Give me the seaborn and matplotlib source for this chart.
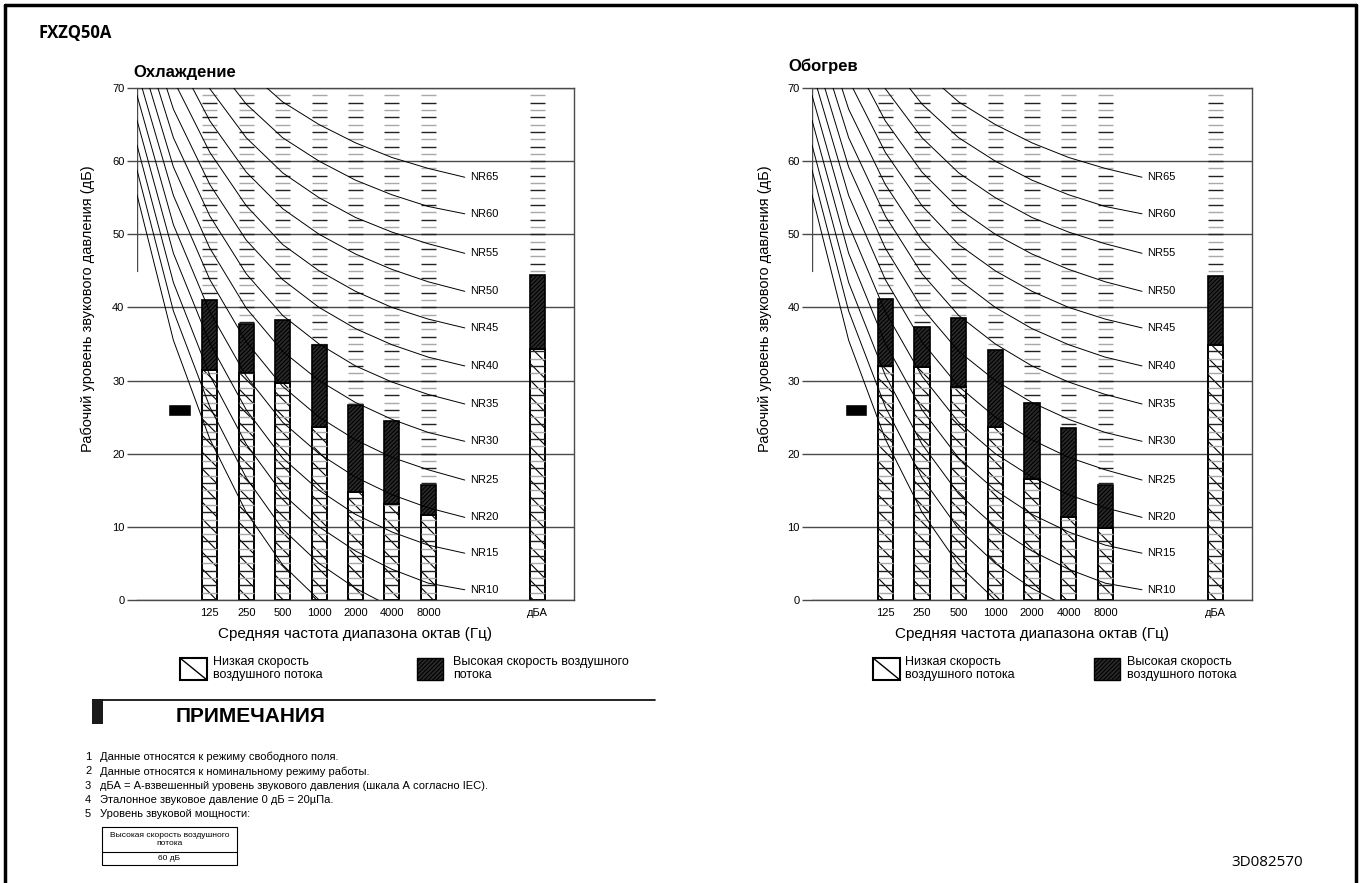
import numpy as np
import pandas as pd
import matplotlib
matplotlib.use("Agg")
import matplotlib.pyplot as plt
import seaborn as sns
from matplotlib.patches import Rectangle
from matplotlib.lines import Line2D

# ---------------- data ----------------
model_name = "FXZQ50A"
panel_titles = ["Охлаждение", "Обогрев"]
band_labels = ["125", "250", "500", "1000", "2000", "4000", "8000", "дБА"]
band_slots = [2, 3, 4, 5, 6, 7, 8, 11]

cool_low = [31.4, 31.1, 29.6, 23.6, 14.7, 13.1, 11.6, 34.3]
cool_high = [41.0, 37.8, 38.3, 34.9, 26.6, 24.5, 15.7, 44.5]
heat_low = [32.0, 31.8, 29.1, 23.7, 16.5, 11.4, 9.8, 34.8]
heat_high = [41.2, 37.3, 38.5, 34.2, 27.0, 23.5, 15.7, 44.3]

marker_band = [25.2, 26.8]          # black marker, dB range
marker_slot = [1.16, 1.2]           # per panel

# NR reference curves, slots 0..9 = 31.5 Hz ... 16 kHz
nr_slots = [0, 1, 2, 3, 4, 5, 6, 7, 8, 9]
nr_names = [0, 5, 10, 15, 20, 25, 30, 35, 40, 45, 50, 55, 60, 65]
nr_values = [
    [55.4, 35.5, 22.0, 12.0, 4.8, 0.0, -3.5, -6.1, -8.0, -9.5],
    [58.8, 39.5, 26.4, 16.7, 9.7, 5.0, 1.6, -1.0, -2.9, -4.4],
    [62.2, 43.4, 30.7, 21.3, 14.5, 10.0, 6.7, 4.2, 2.3, 1.4],
    [65.6, 47.4, 35.1, 26.0, 19.4, 15.0, 11.7, 9.3, 7.5, 6.4],
    [69.0, 51.3, 39.4, 30.6, 24.3, 20.0, 16.8, 14.4, 12.6, 11.3],
    [72.4, 55.3, 43.8, 35.3, 29.2, 25.0, 21.9, 19.5, 17.8, 16.4],
    [75.8, 59.2, 48.1, 39.9, 34.0, 30.0, 27.0, 24.7, 22.9, 21.7],
    [79.2, 63.2, 52.5, 44.6, 38.9, 35.0, 32.0, 29.8, 28.1, 26.8],
    [82.6, 67.1, 56.8, 49.2, 43.8, 40.0, 37.1, 34.9, 33.2, 32.0],
    [86.0, 71.1, 61.2, 53.9, 48.6, 45.0, 42.2, 40.0, 38.4, 37.2],
    [89.5, 75.0, 65.5, 58.5, 53.5, 50.0, 47.3, 45.2, 43.5, 42.2],
    [92.9, 79.0, 69.9, 63.2, 58.4, 55.0, 52.3, 50.3, 48.7, 47.4],
    [96.3, 82.9, 74.2, 67.8, 63.2, 60.0, 57.4, 55.4, 53.8, 52.8],
    [99.7, 86.9, 78.6, 72.5, 68.1, 65.0, 62.5, 60.5, 59.0, 57.8],
]
y_ticks = [0, 10, 20, 30, 40, 50, 60, 70]

x_label = "Средняя частота диапазона октав (Гц)"
y_label = "Рабочий уровень звукового давления (дБ)"
legend_low = ["Низкая скорость\nвоздушного потока", "Низкая скорость\nвоздушного потока"]
legend_high = ["Высокая скорость воздушного\nпотока", "Высокая скорость\nвоздушного потока"]
notes_title = "ПРИМЕЧАНИЯ"
notes = [
    "Данные относятся к режиму свободного поля.",
    "Данные относятся к номинальному режиму работы.",
    "дБА = А-взвешенный уровень звукового давления (шкала А согласно IEC).",
    "Эталонное звуковое давление 0 дБ = 20µПа.",
    "Уровень звуковой мощности:",
]
power_table_head = "Высокая скорость воздушного\nпотока"
power_table_value = "60 дБ"
doc_code = "3D082570"

# ---------------- style ----------------
sns.set_theme(style="white")
plt.rcParams["font.family"] = ["Liberation Sans", "DejaVu Sans"]
plt.rcParams["hatch.linewidth"] = 0.8
plt.rcParams["text.color"] = "black"
plt.rcParams["axes.labelcolor"] = "black"
plt.rcParams["xtick.color"] = "black"
plt.rcParams["ytick.color"] = "black"

W, H = 1361, 883
fig = plt.figure(figsize=(W / 100, H / 100), dpi=100)
fig.patch.set_facecolor("white")


def FX(x):
    return x / W


def FY(y):
    return 1 - y / H


def draw_panel(ax, low, high, mslot):
    df = pd.DataFrame({"slot": band_slots, "low": low, "high": high})
    df["span"] = df["high"] - df["low"]

    # dashed level marks in every band column
    for s in band_slots:
        lv = list(range(1, 70))
        cols = ["#a8a8a8" if v % 2 else "#222222" for v in lv]
        ax.hlines(lv, s - 0.205, s + 0.205, colors=cols, linewidth=1.0, zorder=1.5)

    sns.barplot(data=df, x="slot", y="low", native_scale=True, width=0.41,
                color="white", saturation=1, edgecolor="black", linewidth=1.4,
                hatch="\\\\", ax=ax, zorder=1)
    sns.barplot(data=df, x="slot", y="span", bottom=df["low"].to_numpy(),
                native_scale=True, width=0.41, color="#2a2a2a", saturation=1,
                edgecolor="black", linewidth=1.2, hatch="////////", ax=ax, zorder=2)

    ax.bar([mslot], [marker_band[1] - marker_band[0]], bottom=marker_band[0],
           width=0.62, color="black", zorder=2)

    rows = [(n, x, v) for n, r in zip(nr_names, nr_values) for x, v in zip(nr_slots, r)]
    nr_df = pd.DataFrame(rows, columns=["nr", "slot", "level"])
    sns.lineplot(data=nr_df, x="slot", y="level", units="nr", estimator=None,
                 color="black", linewidth=0.7, ax=ax, zorder=3, legend=False)
    for n, r in zip(nr_names, nr_values):
        if n >= 10:
            ax.text(9.15, r[-1], f"NR{n}", fontsize=8, va="center", ha="left",
                    clip_on=False)

    ax.set_xlim(0, 12)
    ax.set_ylim(0, 70)
    ax.set_yticks(y_ticks)
    ax.set_xticks(band_slots, band_labels)
    ax.tick_params(axis="x", length=0, pad=6, labelsize=8, colors="black")
    ax.tick_params(axis="y", length=7, width=1, color="#4a4a4a", pad=2,
                   labelsize=8, left=True, labelcolor="black")
    ax.grid(axis="y", color="#4a4a4a", linewidth=1)
    ax.set_axisbelow(True)
    for sp in ["top", "right", "bottom"]:
        ax.spines[sp].set_color("#4a4a4a")
        ax.spines[sp].set_linewidth(1)
    ax.spines["left"].set_visible(False)
    ax.axvline(0, ymin=45 / 70, ymax=1, color="#4a4a4a", lw=1)
    ax.set_xlabel("")
    ax.set_ylabel("")
    ax.set_facecolor("white")


ax1 = fig.add_axes([FX(137), FY(600), 437 / W, 512 / H])
ax2 = fig.add_axes([FX(812), FY(600), 440 / W, 512 / H])
draw_panel(ax1, cool_low, cool_high, marker_slot[0])
draw_panel(ax2, heat_low, heat_high, marker_slot[1])

# titles
fig.text(FX(38), FY(33), model_name, fontsize=12, fontweight="bold",
         family=["Open Sans", "DejaVu Sans"], va="center", ha="left")
fig.text(FX(133), FY(77), panel_titles[0], fontsize=12, fontweight="bold",
         va="baseline", ha="left")
fig.text(FX(788), FY(71), panel_titles[1], fontsize=12, fontweight="bold",
         va="baseline", ha="left")

# axis labels
for ax, ylx in [(ax1, 88), (ax2, 765)]:
    bb = ax.get_position()
    fig.text((bb.x0 + bb.x1) / 2, FY(634), x_label, fontsize=11, ha="center", va="center")
    fig.text(FX(ylx), FY(309), y_label, fontsize=10.5, rotation=90, ha="center", va="center")

# legends
def legend_pair(lx0, ltx, hx0, htx, ltxt, htxt):
    y0, y1 = 658, 680
    fig.add_artist(Rectangle((FX(lx0), FY(y1)), 27 / W, (y1 - y0) / H,
                             transform=fig.transFigure, facecolor="white",
                             edgecolor="black", linewidth=1.5))
    fig.add_artist(Line2D([FX(lx0), FX(lx0 + 27)], [FY(y0), FY(y1)],
                          transform=fig.transFigure, color="black", linewidth=1.0))
    fig.add_artist(Rectangle((FX(hx0), FY(y1)), 26 / W, (y1 - y0) / H,
                             transform=fig.transFigure, facecolor="#2a2a2a",
                             edgecolor="black", linewidth=1.0, hatch="////////"))
    fig.text(FX(ltx), FY(668.5), ltxt, fontsize=9, ha="left", va="center",
             linespacing=1.05)
    fig.text(FX(htx), FY(668.5), htxt, fontsize=9, ha="left", va="center",
             linespacing=1.05)


legend_pair(180, 213, 417, 453, legend_low[0], legend_high[0])
legend_pair(873, 905, 1094, 1127, legend_low[1], legend_high[1])

# notes section
fig.add_artist(Rectangle((FX(92), FY(724)), 11 / W, 25 / H, transform=fig.transFigure,
                         facecolor="#1a1a1a", edgecolor="none"))
fig.add_artist(Line2D([FX(103), FX(655)], [FY(700), FY(700)], transform=fig.transFigure,
                      color="black", linewidth=1.2))
fig.text(FX(176), FY(716), notes_title, fontsize=15, fontweight="bold",
         ha="left", va="center")
for i, t in enumerate(notes):
    yy = 757 + 14.3 * i
    fig.text(FX(85), FY(yy), str(i + 1), fontsize=8, ha="left", va="center")
    fig.text(FX(100), FY(yy), t, fontsize=8, ha="left", va="center")

# small power table
fig.add_artist(Rectangle((FX(102), FY(865)), 135 / W, 38 / H, transform=fig.transFigure,
                         facecolor="none", edgecolor="black", linewidth=0.8))
fig.add_artist(Line2D([FX(102), FX(237)], [FY(852), FY(852)], transform=fig.transFigure,
                      color="black", linewidth=0.8))
fig.text(FX(169.5), FY(839.5), power_table_head, fontsize=6, ha="center", va="center",
         linespacing=1.1)
fig.text(FX(169.5), FY(858.5), power_table_value, fontsize=6, ha="center", va="center")

fig.text(FX(1303), FY(862), doc_code, fontsize=11, family=["Open Sans", "DejaVu Sans"],
         ha="right", va="center")

# page frame
for xs, ys in [([5, 5], [5, 890]), ([5, 1356], [5, 5]), ([1356, 1356], [5, 890])]:
    fig.add_artist(Line2D([FX(v) for v in xs], [FY(v) for v in ys],
                          transform=fig.transFigure, color="black", linewidth=2.5))

fig.savefig("out.png", dpi=100, facecolor="white")
